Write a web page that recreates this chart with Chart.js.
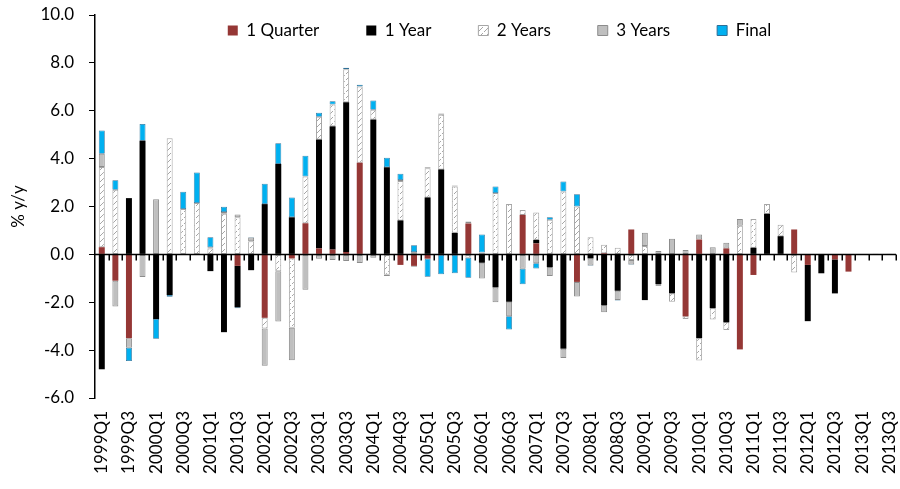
<!DOCTYPE html>
<html><head><meta charset="utf-8">
<script src="https://cdn.jsdelivr.net/npm/chart.js@4"></script>
<style>html,body{margin:0;padding:0;background:#fff}#wrap{width:900px;height:489px}</style>
</head><body><div id="wrap"><canvas id="c" width="900" height="489"></canvas></div>
<script>
const quarters = ["1999Q1","1999Q2","1999Q3","1999Q4","2000Q1","2000Q2","2000Q3","2000Q4","2001Q1","2001Q2","2001Q3","2001Q4","2002Q1","2002Q2","2002Q3","2002Q4","2003Q1","2003Q2","2003Q3","2003Q4","2004Q1","2004Q2","2004Q3","2004Q4","2005Q1","2005Q2","2005Q3","2005Q4","2006Q1","2006Q2","2006Q3","2006Q4","2007Q1","2007Q2","2007Q3","2007Q4","2008Q1","2008Q2","2008Q3","2008Q4","2009Q1","2009Q2","2009Q3","2009Q4","2010Q1","2010Q2","2010Q3","2010Q4","2011Q1","2011Q2","2011Q3","2011Q4","2012Q1","2012Q2","2012Q3","2012Q4","2013Q1","2013Q2","2013Q3"];

const oneQuarter = [0.3,-1.1,-3.5,0,0,0,0,0,0,0,-0.48,0,-2.65,0,-0.17,1.3,0.25,0.2,0.1,3.83,0,0,-0.44,-0.48,-0.18,0,0,1.29,0,0,0,1.65,0.46,0,0,-1.15,0,0.05,0,1.04,0,0,0,-2.59,0.62,0,0.25,-3.97,-0.86,0,0,1.04,-0.44,0,-0.21,-0.72,0,0,0];
const oneYear = [-4.8,0,2.35,4.75,-2.7,-1.7,0,0,-0.7,-3.25,-1.73,-0.66,2.1,3.78,1.55,0,4.55,5.15,6.25,0,5.63,3.64,1.42,0,2.38,3.55,0.9,0,-0.35,-1.38,-1.98,0,0.14,-0.53,-3.94,0,-0.17,-2.12,-1.52,0,-1.91,-1.24,-1.63,0,-3.5,-2.25,-2.84,0,0.28,1.7,0.76,0,-2.35,-0.79,-1.42,0,0,0,0];
const twoYears = [3.35,2.7,0,0,0,4.85,1.9,2.15,0.25,1.7,1.55,0.55,-0.45,-0.7,-2.9,1.95,0.95,0.91,1.38,3.18,0.41,-0.85,1.65,0.1,1.22,2.28,1.94,-0.14,0.08,2.56,2.1,0.2,1.15,1.45,2.63,2.0,0.72,0.35,0.28,-0.24,0.35,-0.08,-0.35,-0.11,-0.93,-0.47,-0.32,1.2,1.2,0.4,0.48,-0.76,0,0.03,0,0,0,0,0];
const threeYears = [0.55,-1.08,-0.4,-0.95,2.3,0,0,0,0.05,0.07,0.12,0.15,-1.55,-2.1,-1.35,-1.48,-0.18,-0.24,-0.28,-0.36,-0.14,-0.05,0.04,-0.04,0.04,0.06,0.04,0.08,-0.66,-0.62,-0.61,-0.6,-0.37,-0.37,-0.39,-0.61,-0.29,-0.3,-0.39,-0.18,0.55,0.14,0.65,0.18,0.21,0.3,0.24,0.28,0,0,0,0,0,0,0,0,0,0.03,0.03];
const finalEst = [0.97,0.4,-0.55,0.7,-0.83,-0.07,0.72,1.27,0.42,0.22,-0.04,0.03,0.85,0.86,0.83,0.87,0.17,0.14,0.07,0.08,0.39,0.4,0.26,0.28,-0.75,-0.83,-0.79,-0.84,0.75,0.28,-0.55,-0.65,-0.22,0.1,0.41,0.51,-0.03,0,-0.02,-0.02,0,0,0,0,0,0,0,0,0,0,0,0,0,0,0,0,0,0,0];

const yTicks = [-6,-4,-2,0,2,4,6,8,10];

function hatchPattern(){
  const c=document.createElement('canvas'); c.width=6; c.height=6;
  const g=c.getContext('2d');
  g.fillStyle='#ffffff'; g.fillRect(0,0,6,6);
  g.strokeStyle='#a6a6a6'; g.lineWidth=1;
  g.beginPath(); g.moveTo(0,6); g.lineTo(3,3); g.stroke();
  g.beginPath(); g.moveTo(4,2); g.lineTo(6,0); g.stroke();
  return g.createPattern(c,'repeat');
}

const FONT = "Lato, 'Open Sans', sans-serif";
const LEGEND_GAP = 47;

const zeroAxis = {
  id:'zeroAxis',
  afterInit(chart){
    if(chart.legend){ chart.legend.isHorizontal = () => true; }
  },
  afterLayout(chart){
    const l = chart.legend, ca = chart.chartArea;
    if(l){ l.left = ca.left + 4; l.right = ca.right + 4; l.top = ca.top + 7 - LEGEND_GAP; }
  },
  afterDatasetsDraw(chart){
    const {ctx, chartArea, scales:{x,y}} = chart;
    const y0 = y.getPixelForValue(0);
    const n = quarters.length;
    const step = (x.getPixelForValue(n-1)-x.getPixelForValue(0))/(n-1);
    ctx.save();
    ctx.strokeStyle='#000';
    ctx.lineWidth=1.5;
    ctx.beginPath(); ctx.moveTo(chartArea.left,y0); ctx.lineTo(chartArea.right,y0); ctx.stroke();
    for(let i=1;i<=n;i++){
      const px = Math.round(x.getPixelForValue(i-1)+step/2)+0.25;
      ctx.beginPath(); ctx.moveTo(px,y0); ctx.lineTo(px,y0+6); ctx.stroke();
    }
    ctx.restore();
  }
};

const ds = (label,data,bg,border,bw)=>({label,data,backgroundColor:bg,borderColor:border,borderWidth:bw,borderSkipped:false,stack:'s'});

new Chart(document.getElementById('c'),{
  type:'bar',
  data:{
    labels:quarters,
    datasets:[
      ds('1 Quarter',oneQuarter,'#953735','#953735',0),
      ds('1 Year',oneYear,'#000000','#000000',0),
      ds('2 Years',twoYears,hatchPattern(),'#a6a6a6',1),
      ds('3 Years',threeYears,'#bfbfbf','#8c8c8c',1),
      ds('Final',finalEst,'#00b0f0','#2f6f96',0.75)
    ]
  },
  options:{
    responsive:false,
    animation:false,
    devicePixelRatio:1,
    layout:{padding:{top:15,right:4,left:0,bottom:0}},
    datasets:{bar:{barPercentage:0.44,categoryPercentage:1}},
    plugins:{
      legend:{
        position:'chartArea',
        fullSize:false,
        align:'center',
        labels:{boxWidth:10,boxHeight:10,padding:LEGEND_GAP,color:'#000',font:{family:FONT,size:17},
          generateLabels(chart){
            const items = Chart.defaults.plugins.legend.labels.generateLabels(chart);
            items.forEach(it=>{ if(it.text==='1 Quarter'||it.text==='1 Year'){it.lineWidth=0;} else {it.lineWidth=1;} });
            return items;
          }
        }
      },
      tooltip:{enabled:false}
    },
    scales:{
      x:{
        stacked:true,
        grid:{display:false},
        border:{display:false},
        ticks:{autoSkip:false,maxRotation:90,minRotation:90,color:'#000',padding:5,
          font:{family:FONT,size:17},
          callback:function(v,i){return i%2===0?quarters[i]:'';}},
        afterFit(s){s.height=91; s.paddingLeft=0; s.paddingRight=0;}
      },
      y:{
        stacked:true,
        min:-6,max:10,
        afterBuildTicks(s){s.ticks=yTicks.map(v=>({value:v}));},
        grid:{display:true,drawOnChartArea:false,tickLength:6,color:'#000',lineWidth:1},
        border:{display:true,color:'#000',width:1.5},
        ticks:{color:'#000',padding:15,font:{family:FONT,size:17},callback:v=>Number(v).toFixed(1)},
        title:{display:true,text:'% y/y',color:'#000',font:{family:FONT,size:17},padding:{top:8,bottom:4}},
        afterFit(s){s.width=95; s.paddingTop=10; s.paddingBottom=10;}
      }
    }
  },
  plugins:[zeroAxis]
});
</script>
</body></html>
